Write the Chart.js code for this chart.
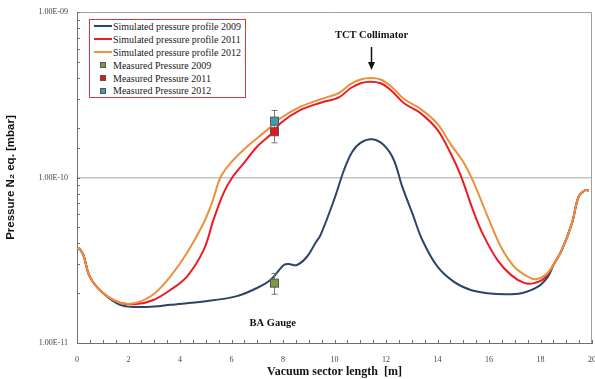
<!DOCTYPE html>
<html>
<head>
<meta charset="utf-8">
<script src="https://cdn.jsdelivr.net/npm/chart.js@4.4.1/dist/chart.umd.min.js"></script>
<style>
  html, body { margin: 0; padding: 0; background: #fff; }
  #wrap { position: relative; width: 595px; height: 379px; }
  #legend {
    position: absolute; left: 89px; top: 19px; width: 157px; height: 79px;
    border: 1px solid #d9383a; background: #fff; box-sizing: border-box;
    font-family: "Liberation Serif", serif; font-size: 10px; color: #1a1a1a;
    padding-top: 0px;
  }
  .lg-row { display: flex; align-items: center; height: 12.9px; white-space: nowrap; }
  .lg-line { width: 18px; height: 2px; margin-left: 4px; margin-right: 1px; }
  .lg-box { width: 6px; height: 6px; margin-left: 10px; margin-right: 7px; border: 1px solid #555; box-sizing: border-box; }
</style>
</head>
<body>
<div id="wrap">
  <canvas id="chart" width="595" height="379"></canvas>
  <div id="legend"></div>
</div>
<script>
// sector position [m] and pressure [mbar]
const x2009 = [0, 0.1, 0.25, 0.5, 1.0, 1.67, 2.3, 3.0, 3.62, 4.92, 6.21, 6.99, 7.51, 8.03, 8.22, 8.54, 8.93, 9.26, 9.46, 9.98, 10.37, 10.69, 11.01, 11.46, 11.91, 12.30, 12.63, 13.02, 13.41, 14.0, 14.64, 15.29, 15.95, 16.6, 17.25, 17.9, 18.29, 18.5, 18.83, 19.22, 19.48, 19.74, 19.87];
const p2009 = [3.75e-11, 3.7e-11, 3.4e-11, 2.51e-11, 2.01e-11, 1.70e-11, 1.65e-11, 1.66e-11, 1.70e-11, 1.78e-11, 1.92e-11, 2.15e-11, 2.40e-11, 2.96e-11, 3.00e-11, 2.96e-11, 3.32e-11, 4.02e-11, 4.5e-11, 7.31e-11, 1.11e-10, 1.43e-10, 1.62e-10, 1.70e-10, 1.57e-10, 1.28e-10, 8.80e-11, 6.10e-11, 4.19e-11, 2.89e-11, 2.34e-11, 2.09e-11, 2.00e-11, 1.97e-11, 2.00e-11, 2.19e-11, 2.52e-11, 2.96e-11, 3.65e-11, 5.28e-11, 7.66e-11, 8.40e-11, 8.33e-11];

const x2011 = [0, 0.1, 0.25, 0.5, 1.0, 1.67, 2.3, 2.97, 3.62, 4.27, 4.92, 5.30, 5.69, 6.03, 6.48, 7.0, 7.64, 7.9, 8.68, 9.46, 10.17, 10.62, 11.01, 11.4, 11.79, 12.18, 12.70, 13.35, 14.0, 14.51, 14.9, 15.42, 15.81, 16.33, 16.85, 17.36, 17.75, 18.15, 18.5, 18.83, 19.22, 19.48, 19.74, 19.87];
const p2011 = [3.75e-11, 3.7e-11, 3.4e-11, 2.51e-11, 2.01e-11, 1.75e-11, 1.72e-11, 1.82e-11, 2.09e-11, 2.52e-11, 3.65e-11, 5.54e-11, 8.05e-11, 1.0e-10, 1.22e-10, 1.54e-10, 1.89e-10, 2.13e-10, 2.56e-10, 2.83e-10, 3.05e-10, 3.46e-10, 3.71e-10, 3.79e-10, 3.71e-10, 3.38e-10, 2.81e-10, 2.44e-10, 1.94e-10, 1.40e-10, 1.03e-10, 6.10e-11, 4.39e-11, 3.17e-11, 2.58e-11, 2.31e-11, 2.30e-11, 2.46e-11, 2.96e-11, 3.65e-11, 5.28e-11, 7.66e-11, 8.40e-11, 8.33e-11];

const x2012 = [0, 0.1, 0.25, 0.5, 1.0, 1.67, 2.3, 2.97, 3.62, 4.27, 4.92, 5.24, 5.57, 5.96, 6.61, 7.39, 7.9, 8.68, 9.46, 10.17, 10.62, 11.01, 11.4, 11.79, 12.18, 12.70, 13.35, 14.0, 14.51, 15.03, 15.42, 15.95, 16.46, 16.98, 17.5, 17.82, 18.2, 18.5, 18.83, 19.22, 19.48, 19.74, 19.87];
const p2012 = [3.75e-11, 3.7e-11, 3.4e-11, 2.51e-11, 2.01e-11, 1.75e-11, 1.75e-11, 1.97e-11, 2.52e-11, 3.50e-11, 5.31e-11, 7.02e-11, 1.0e-10, 1.22e-10, 1.54e-10, 1.94e-10, 2.28e-10, 2.68e-10, 2.97e-10, 3.24e-10, 3.67e-10, 3.91e-10, 3.99e-10, 3.91e-10, 3.57e-10, 2.98e-10, 2.59e-10, 2.11e-10, 1.59e-10, 1.22e-10, 9.22e-11, 5.80e-11, 3.82e-11, 2.89e-11, 2.52e-11, 2.43e-11, 2.58e-11, 2.96e-11, 3.65e-11, 5.28e-11, 7.66e-11, 8.40e-11, 8.33e-11];

// BA gauge measurements
const gaugeX = 7.64;
const measLabels = ['Measured Pressure 2009', 'Measured Pressure 2011', 'Measured Pressure 2012'];
const measValues = [2.30e-11, 1.89e-10, 2.19e-10];
const measLow    = [1.97e-11, 1.62e-10, 1.89e-10];
const measHigh   = [2.63e-11, 1.89e-10, 2.54e-10];

const lineLabels = ['Simulated pressure profile 2009', 'Simulated pressure profile 2011', 'Simulated pressure profile 2012'];
const LINE_COLORS = ['#2b4468', '#ec1c24', '#e9913b'];
const MEAS_COLORS = ['#7e9c3c', '#e3161d', '#3b9db6'];

const toPts = (xs, ys) => xs.map((x, i) => ({ x, y: ys[i] }));

const isDecade = v => Math.abs(Math.log10(v) - Math.round(Math.log10(v))) < 1e-6;
const fmtExp = v => v.toExponential(2).toUpperCase().replace(/E([+-])(\d)$/, 'E$10$2');

// ── inward ticks, frame, error bars, annotations ───────────────────────────
const decorPlugin = {
  id: 'decor',
  afterDatasetsDraw(chart) {
    const { ctx, chartArea: a, scales: { x, y } } = chart;
    ctx.save();
    // frame
    ctx.strokeStyle = '#a0a0a0';
    ctx.lineWidth = 1;
    ctx.beginPath();
    ctx.moveTo(a.left, a.top + 0.5);
    ctx.lineTo(a.right - 0.5, a.top + 0.5);
    ctx.lineTo(a.right - 0.5, a.bottom);
    ctx.stroke();
    // ticks
    ctx.strokeStyle = '#707070';
    y.ticks.forEach(t => {
      const py = Math.round(y.getPixelForValue(t.value)) + 0.5;
      ctx.beginPath(); ctx.moveTo(a.left, py); ctx.lineTo(a.left + 3, py); ctx.stroke();
    });
    x.ticks.forEach(t => {
      const px = Math.round(x.getPixelForValue(t.value)) + 0.5;
      ctx.beginPath(); ctx.moveTo(px, a.bottom); ctx.lineTo(px, a.bottom - 3); ctx.stroke();
    });
    ctx.restore();
  },
  afterDraw(chart) {
    const { ctx, scales: { x, y } } = chart;
    ctx.save();
    // error bars
    const gx = Math.round(x.getPixelForValue(gaugeX)) + 0.5;
    ctx.strokeStyle = '#777';
    ctx.lineWidth = 1;
    measValues.forEach((v, i) => {
      const t = y.getPixelForValue(measHigh[i]);
      const b = y.getPixelForValue(measLow[i]);
      ctx.beginPath();
      ctx.moveTo(gx, t); ctx.lineTo(gx, b);
      ctx.moveTo(gx - 3, t); ctx.lineTo(gx + 3, t);
      ctx.moveTo(gx - 3, b); ctx.lineTo(gx + 3, b);
      ctx.stroke();
    });
    // markers drawn over error bars
    measValues.forEach((v, i) => {
      const py = y.getPixelForValue(v);
      ctx.fillStyle = MEAS_COLORS[i];
      ctx.strokeStyle = '#555';
      ctx.fillRect(gx - 4, py - 4, 8, 8);
      ctx.strokeRect(gx - 4, py - 4, 8, 8);
    });
    // annotations
    ctx.fillStyle = '#111';
    ctx.font = 'bold 10.5px "Liberation Serif"';
    ctx.textAlign = 'center';
    ctx.textBaseline = 'middle';
    const cx = Math.round(x.getPixelForValue(11.4)) + 0.5;
    ctx.fillText('TCT Collimator', cx, 35);
    ctx.strokeStyle = '#111';
    ctx.lineWidth = 1.5;
    ctx.beginPath(); ctx.moveTo(cx, 47); ctx.lineTo(cx, 67); ctx.stroke();
    ctx.beginPath();
    ctx.moveTo(cx - 3.5, 62); ctx.lineTo(cx, 70); ctx.lineTo(cx + 3.5, 62); ctx.closePath();
    ctx.fill();
    ctx.fillText('BA Gauge', x.getPixelForValue(7.6), 323);
    ctx.restore();
  }
};

const lineSets = [p2009, p2011, p2012].map((p, i) => ({
  type: 'line',
  label: lineLabels[i],
  data: toPts([x2009, x2011, x2012][i], p),
  borderColor: LINE_COLORS[i],
  borderWidth: 2,
  pointRadius: 0,
  tension: 0.35,
  fill: false,
  order: 2 - i
}));

new Chart(document.getElementById('chart'), {
  type: 'line',
  data: { datasets: lineSets },
  options: {
    responsive: false,
    animation: false,
    layout: { padding: { left: 0, top: 12, right: 3, bottom: 0 } },
    plugins: { legend: { display: false }, tooltip: { enabled: false } },
    scales: {
      x: {
        type: 'linear', min: 0, max: 20,
        afterFit: s => { s.height = 36; s.paddingLeft = 0; s.paddingRight = 0; },
        border: { color: '#707070' },
        grid: { display: false },
        ticks: {
          stepSize: 0.5, autoSkip: false, maxRotation: 0, padding: 4,
          color: '#444', font: { family: 'Liberation Serif', size: 8 },
          callback: v => (v % 2 === 0 ? String(v) : '')
        },
        title: {
          display: true, text: 'Vacuum sector length  [m]', color: '#111',
          font: { family: 'Liberation Serif', size: 12, weight: 'bold' }, padding: { top: 2, bottom: 0 }
        }
      },
      y: {
        type: 'logarithmic', min: 1e-11, max: 1e-9,
        afterFit: s => { s.width = 77; s.paddingTop = 0; s.paddingBottom = 0; },
        border: { color: '#707070' },
        grid: {
          drawTicks: false,
          color: c => (c.tick && Math.abs(c.tick.value - 1e-10) < 1e-14 ? '#c4c4c4' : 'rgba(0,0,0,0)'),
          lineWidth: 1.5
        },
        ticks: {
          autoSkip: false, padding: 9,
          color: '#444', font: { family: 'Liberation Serif', size: 8 },
          callback: v => (isDecade(v) ? fmtExp(v) : '')
        },
        title: {
          display: true, text: 'Pressure N₂ eq. [mbar]', color: '#111',
          font: { family: 'Liberation Sans', size: 11.5, weight: 'bold' }
        }
      }
    }
  },
  plugins: [decorPlugin]
});

// ── legend ─────────────────────────────────────────────────────────────────
document.getElementById('legend').innerHTML =
  lineLabels.map((l, i) => `<div class="lg-row"><span class="lg-line" style="background:${LINE_COLORS[i]}"></span>${l}</div>`).join('') +
  measLabels.map((l, i) => `<div class="lg-row"><span class="lg-box" style="background:${MEAS_COLORS[i]}"></span>${l}</div>`).join('');
</script>
</body>
</html>
